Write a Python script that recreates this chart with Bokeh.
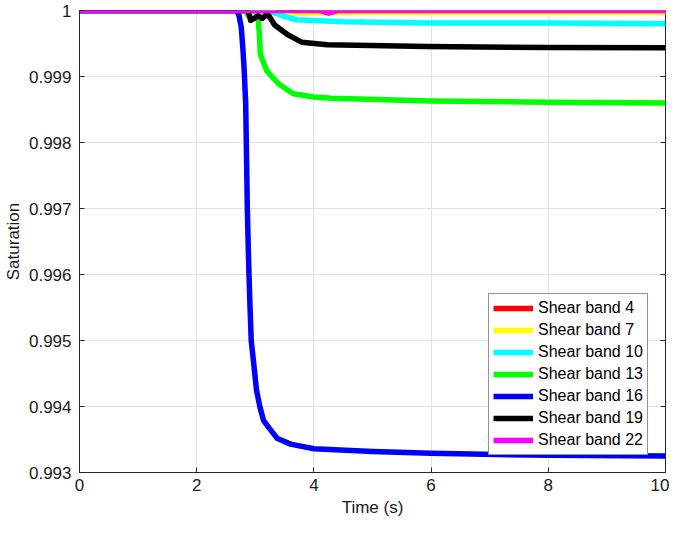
from bokeh.plotting import figure
from bokeh.models import FixedTicker, CustomJSTickFormatter, Range1d
from bokeh.embed import file_html
from bokeh.resources import INLINE

# ---- data ----
x_ticks = [0, 2, 4, 6, 8, 10]
y_ticks = [0.993, 0.994, 0.995, 0.996, 0.997, 0.998, 0.999, 1.0]
x_min, x_max = 0, 10
y_min, y_max = 0.993, 1.0

series_names = ["Shear band 4", "Shear band 7", "Shear band 10", "Shear band 13",
                "Shear band 16", "Shear band 19", "Shear band 22"]
series_colors = ["#ff0000", "#ffff00", "#00ffff", "#00ff00", "#0000ff", "#000000", "#ff00ff"]

t_band4 = [0, 3.2, 3.35, 3.7, 4.2, 10]
s_band4 = [1.0, 1.0, 0.99996, 0.99996, 0.99999, 0.99999]

t_band7 = [0, 3.2, 3.35, 3.7, 4.5, 10]
s_band7 = [1.0, 1.0, 0.99996, 0.99996, 0.99997, 0.99997]

t_band10 = [0, 3.2, 3.31, 3.5, 3.7, 4.5, 6, 8, 10]
s_band10 = [1.0, 1.0, 0.99997, 0.99991, 0.99986, 0.99983, 0.99981, 0.99981, 0.99980]

t_band13 = [0, 2.84, 2.87, 2.90, 3.0, 3.032, 3.05, 3.07, 3.087, 3.199, 3.395, 3.647, 4.0, 4.3, 6, 8, 10]
s_band13 = [1.0, 1.0, 0.99993, 1.0, 1.0, 0.99993, 0.99985, 0.99963, 0.99933, 0.99908, 0.99889,
            0.99874, 0.99869, 0.99867, 0.99863, 0.99861, 0.99860]

t_band16 = [0, 2.68, 2.72, 2.76, 2.79, 2.81, 2.836, 2.85, 2.864, 2.88, 2.893, 2.91, 2.931, 2.955,
            2.977, 3.02, 3.082, 3.14, 3.23, 3.37, 3.6, 4.0, 5.0, 6.0, 8.0, 10.0]
s_band16 = [1.0, 1.0, 0.99993, 0.99975, 0.9994, 0.9991, 0.99859, 0.9978, 0.9970, 0.9964, 0.99599,
            0.9955, 0.99499, 0.9948, 0.99462, 0.99425, 0.99398, 0.99379, 0.99368, 0.99352,
            0.99343, 0.99336, 0.99332, 0.99329, 0.99326, 0.99325]

t_band19 = [0, 2.88, 2.92, 2.98, 3.05, 3.12, 3.18, 3.23, 3.33, 3.56, 3.79, 4.23, 5.93, 8, 10]
s_band19 = [1.0, 1.0, 0.99985, 0.99988, 0.99992, 0.99988, 0.99993, 0.99992, 0.99978, 0.99963,
            0.99952, 0.99948, 0.999455, 0.99944, 0.999435]

t_band22 = [0, 4.1, 4.25, 4.4, 10]
s_band22 = [1.0, 1.0, 0.99996, 1.0, 1.0]

times = [t_band4, t_band7, t_band10, t_band13, t_band16, t_band19, t_band22]
values = [s_band4, s_band7, s_band10, s_band13, s_band16, s_band19, s_band22]

# ---- styling ----
FONT = "Liberation Sans"
AXIS_COL = "#262626"
GRID_COL = "#e3e3e3"

p = figure(width=669, height=519, x_range=Range1d(x_min, x_max), y_range=Range1d(y_min, y_max),
           output_backend="svg", toolbar_location=None,
           min_border_left=75, min_border_right=4, min_border_top=10, min_border_bottom=0)
p.outline_line_color = AXIS_COL
p.outline_line_width = 1
p.background_fill_color = "white"
p.border_fill_color = "white"

# grid
p.xgrid.ticker = FixedTicker(ticks=x_ticks)
p.ygrid.ticker = FixedTicker(ticks=y_ticks)
p.grid.grid_line_color = GRID_COL
p.grid.grid_line_width = 1

# right-side inward ticks of the box (half of each dash is clipped by the frame)
p.scatter([x_max] * len(y_ticks), y_ticks, marker="dash", size=10,
          line_color=AXIS_COL, line_width=1)

for t, v, name, col in zip(times, values, series_names, series_colors):
    p.line(t, v, line_color=col, line_width=5.5, line_join="round", legend_label=name)

# main axes
p.xaxis.ticker = FixedTicker(ticks=x_ticks)
p.yaxis.ticker = FixedTicker(ticks=y_ticks)
p.yaxis.formatter = CustomJSTickFormatter(code="return tick >= 0.99999 ? '1' : tick.toFixed(3);")
p.xaxis.axis_label = "Time (s)"
p.yaxis.axis_label = "Saturation"
for ax in (p.xaxis, p.yaxis):
    ax.axis_line_color = AXIS_COL
    ax.axis_line_width = 1
    ax.major_tick_line_color = AXIS_COL
    ax.major_tick_in = 5
    ax.major_tick_out = 0
    ax.minor_tick_line_color = None
    ax.major_label_text_font = FONT
    ax.major_label_text_font_size = "17px"
    ax.major_label_text_color = "#1a1a1a"
    ax.axis_label_text_font = FONT
    ax.axis_label_text_font_size = "17px"
    ax.axis_label_text_font_style = "normal"
    ax.axis_label_text_color = "#1a1a1a"
p.xaxis.major_label_standoff = 6
p.xaxis.axis_label_standoff = 4
p.yaxis.major_label_standoff = 8
p.yaxis.axis_label_standoff = 3

# legend
lg = p.legend[0]
lg.location = "bottom_right"
lg.margin = 17
lg.padding = 4
lg.spacing = 2
lg.glyph_width = 40
lg.glyph_height = 20
lg.label_height = 20
lg.label_standoff = 5
lg.label_text_font = FONT
lg.label_text_font_size = "16px"
lg.label_text_color = "#000000"
lg.border_line_color = AXIS_COL
lg.border_line_width = 1
lg.background_fill_color = "white"
lg.background_fill_alpha = 1.0

open("out.html", "w").write(file_html(p, INLINE))
